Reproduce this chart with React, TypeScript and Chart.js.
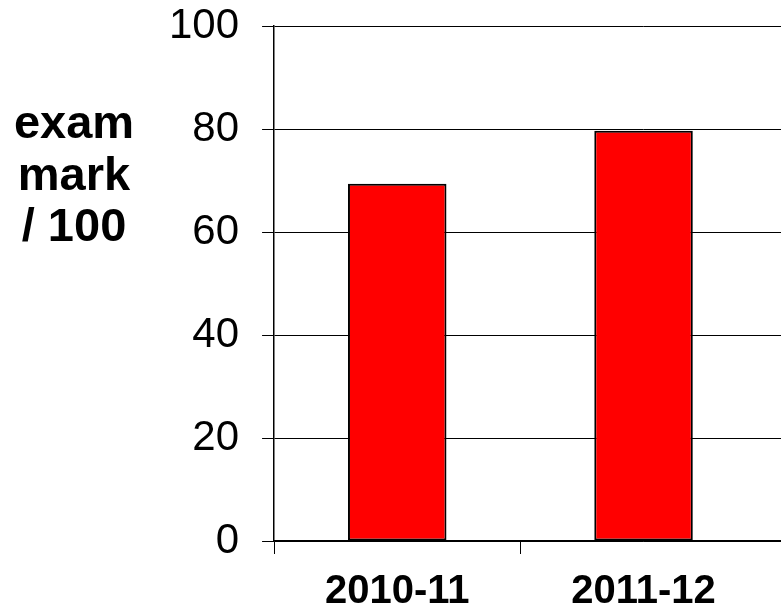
import React, { useEffect, useRef } from "react";
import { Chart, registerables } from "chart.js";

Chart.register(...registerables);

const categories = ["2010-11", "2011-12", ""];
const examMarks: (number | null)[] = [69.4, 79.7, null];
const yTicks = [0, 20, 40, 60, 80, 100];
const yTitleLines = ["exam", "mark", "/ 100"];

const FONT = "'Liberation Sans', Arial, Helvetica, sans-serif";
const SHIFT = 22;

export default function App() {
  const ref = useRef<HTMLCanvasElement>(null);

  useEffect(() => {
    if (!ref.current) return;
    const sideTitle = {
      id: "sideTitle",
      afterDraw(chart: any) {
        const ctx = chart.ctx;
        ctx.save();
        ctx.font = `bold 47px ${FONT}`;
        ctx.fillStyle = "#000";
        ctx.textAlign = "center";
        ctx.textBaseline = "alphabetic";
        yTitleLines.forEach((t, i) => ctx.fillText(t, 74, 138 + SHIFT + i * 51.7));
        ctx.restore();
      },
    };
    const chart = new Chart(ref.current, {
      type: "bar",
      data: {
        labels: categories,
        datasets: [
          {
            data: examMarks,
            backgroundColor: "#FF0000",
            borderColor: "#000000",
            borderWidth: 2,
            borderSkipped: false,
            barPercentage: 0.4,
            categoryPercentage: 1,
          },
        ],
      },
      options: {
        responsive: false,
        animation: false,
        devicePixelRatio: 1,
        layout: { padding: { left: 146, right: 0, top: 0, bottom: 0 } },
        plugins: {
          legend: { display: false },
          tooltip: { enabled: false },
        },
        scales: {
          x: {
            offset: true,
            grid: {
              offset: true,
              drawOnChartArea: false,
              drawTicks: true,
              tickLength: 13,
              color: (c: any) => (c.index >= 2 ? "rgba(0,0,0,0)" : "#000"),
              lineWidth: 1,
            },
            border: { display: true, color: "#000", width: 1.5 },
            ticks: {
              color: "#000",
              padding: 14,
              maxRotation: 0,
              font: { family: FONT, size: 40, weight: "bold" },
            },
          },
          y: {
            min: 0,
            max: 100,
            afterBuildTicks: (scale: any) => {
              scale.ticks = yTicks.map((v) => ({ value: v }));
            },
            grid: {
              color: "#000",
              lineWidth: 1,
              drawTicks: true,
              tickLength: 12,
            },
            border: { display: true, color: "#000", width: 1.5 },
            ticks: {
              color: "#000",
              padding: 23,
              font: { family: FONT, size: 42 },
            },
          },
        },
      },
      plugins: [sideTitle],
    });
    return () => chart.destroy();
  }, []);

  return (
    <div
      style={{
        position: "fixed",
        left: 0,
        top: 0,
        width: 781,
        height: 613,
        overflow: "hidden",
        background: "#fff",
      }}
    >
      <canvas
        ref={ref}
        width={1013}
        height={652}
        style={{ display: "block", marginTop: -SHIFT }}
      />
    </div>
  );
}
